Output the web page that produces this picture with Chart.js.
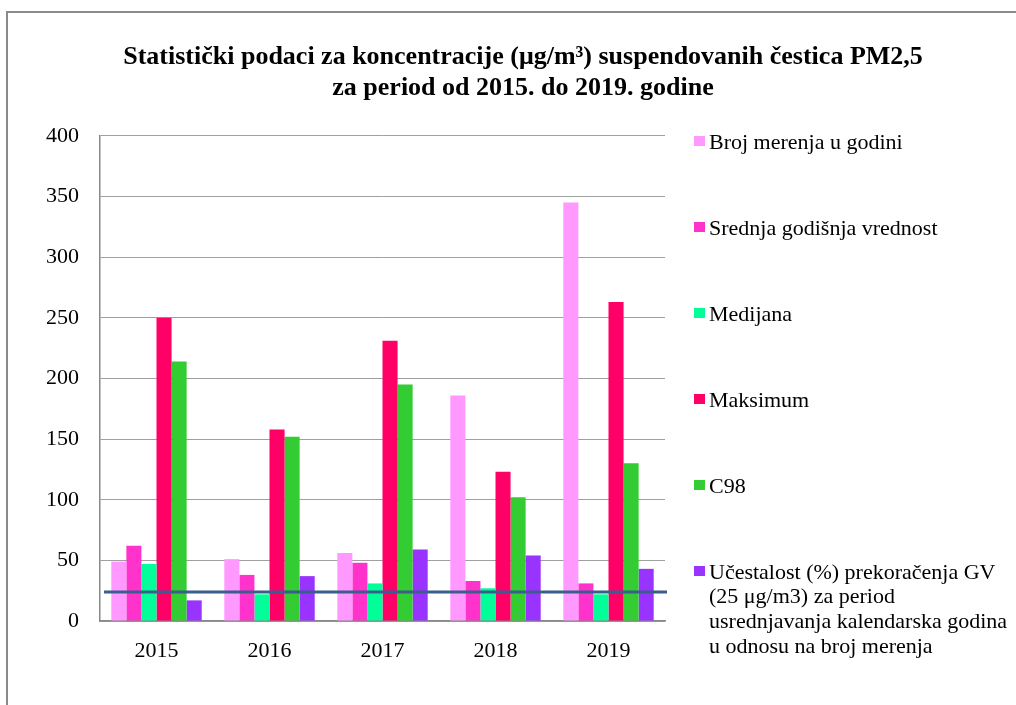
<!DOCTYPE html>
<html>
<head>
<meta charset="utf-8">
<title>PM2,5 2015-2019</title>
<script src="https://cdn.jsdelivr.net/npm/chart.js@4.4.1/dist/chart.umd.min.js"></script>
<style>
  html, body { margin: 0; padding: 0; background: #fff; overflow: hidden; }
  #wrap { position: relative; width: 1016px; height: 705px; overflow: hidden; }
  #frame { position: absolute; left: 6px; top: 11px; width: 1100px; height: 800px; border: 2px solid #8a8a8a; }
  #chart { position: absolute; left: 0; top: 0; }
  #legend { position: absolute; left: 0; top: 0; font-family: "Liberation Serif", serif; font-size: 22px; color: #000; }
  .item { position: absolute; left: 694px; }
  .box { position: absolute; left: 0; top: 6px; width: 11px; height: 10px; }
  .txt { position: absolute; left: 15px; top: 0; line-height: 24.7px; white-space: nowrap; }
</style>
</head>
<body>
<div id="wrap">
  <div id="frame"></div>
  <canvas id="chart" width="1016" height="705"></canvas>
  <div id="legend"></div>
</div>
<script>
// categories
const years = ['2015', '2016', '2017', '2018', '2019'];

// series values
const brojMerenja = [49, 51, 56, 186, 345];
const srednjaVrednost = [62, 38, 48, 33, 31];
const medijana = [47, 22, 31, 27, 22];
const maksimum = [250, 158, 231, 123, 263];
const c98 = [214, 152, 195, 102, 130];
const ucestalost = [17, 37, 59, 54, 43];

// limit value line (GV)
const limitValue = 24;

// y axis
const yMin = 0;
const yMax = 400;
const yStep = 50;

const titleLines = [
    'Statistički podaci za koncentracije (μg/m³) suspendovanih čestica PM2,5',
    'za period od 2015. do 2019. godine'
];

// legend names, long one split like in the original
const seriesNames = [
    ['Broj merenja u godini'],
    ['Srednja godišnja vrednost'],
    ['Medijana'],
    ['Maksimum'],
    ['C98'],
    ['Učestalost (%) prekoračenja GV', '(25 μg/m3) za period', 'usrednjavanja kalendarska godina', 'u odnosu na broj merenja']
];
const seriesValues = [brojMerenja, srednjaVrednost, medijana, maksimum, c98, ucestalost];
const seriesColors = ['#ff99ff', '#ff33cc', '#00ff99', '#ff0066', '#33cc33', '#9933ff'];

const serif = 'Liberation Serif';

// horizontal GV line across the whole plot
const limitLine = {
    id: 'limitLine',
    afterDatasetsDraw(chart) {
        const y = chart.scales.y.getPixelForValue(limitValue);
        const area = chart.chartArea;
        const ctx = chart.ctx;
        ctx.save();
        ctx.strokeStyle = '#3b5e8c';
        ctx.lineWidth = 3;
        ctx.beginPath();
        ctx.moveTo(area.left + 4, y);
        ctx.lineTo(area.right + 2, y);
        ctx.stroke();
        ctx.restore();
    }
};

const ctx = document.getElementById('chart').getContext('2d');
const chart = new Chart(ctx, {
    type: 'bar',
    data: {
        labels: years,
        datasets: seriesValues.map((vals, i) => ({
            label: seriesNames[i].join(' '),
            data: vals,
            backgroundColor: seriesColors[i],
            borderWidth: 0,
            categoryPercentage: 0.8,
            barPercentage: 1.0
        }))
    },
    options: {
        responsive: false,
        animation: false,
        layout: { padding: { left: 30, top: 13, right: 0, bottom: 0 } },
        plugins: {
            legend: { display: false },
            tooltip: { enabled: false },
            title: {
                display: true,
                text: titleLines,
                color: '#000',
                font: { family: serif, size: 26, weight: 'bold', lineHeight: 1.19 },
                padding: { top: 28.5, bottom: 32.5 }
            }
        },
        scales: {
            x: {
                grid: { display: false, drawTicks: false },
                border: { color: '#888', width: 1.5 },
                ticks: { color: '#000', font: { family: serif, size: 22 }, padding: 17 },
                afterFit(s) { s.height = 84; }
            },
            y: {
                min: yMin,
                max: yMax,
                ticks: { stepSize: yStep, color: '#000', font: { family: serif, size: 22 }, padding: 21 },
                grid: { color: '#a0a0a0', lineWidth: 1, drawTicks: false },
                border: { color: '#888', width: 1.5 },
                afterFit(s) { s.width = 70; }
            },
            // empty space on the right for the legend
            side: {
                type: 'linear',
                position: 'right',
                display: true,
                grid: { display: false },
                border: { display: false },
                ticks: { display: false },
                afterFit(s) { s.width = 351; }
            }
        }
    },
    plugins: [limitLine]
});

// legend on the right
const legend = document.getElementById('legend');
seriesNames.forEach((lines, i) => {
    const item = document.createElement('div');
    item.className = 'item';
    item.style.top = (129.6 + i * 86) + 'px';
    const box = document.createElement('div');
    box.className = 'box';
    box.style.background = seriesColors[i];
    const txt = document.createElement('div');
    txt.className = 'txt';
    txt.innerHTML = lines.join('<br>');
    item.appendChild(box);
    item.appendChild(txt);
    legend.appendChild(item);
});
</script>
</body>
</html>
